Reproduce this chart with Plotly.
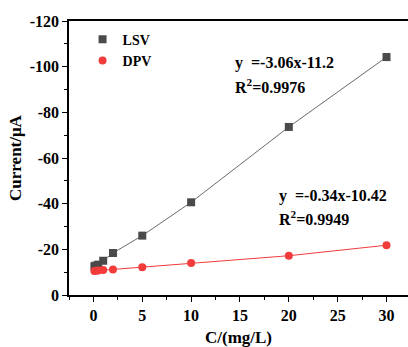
import plotly.graph_objects as go

conc = [0.1, 0.25, 0.5, 1, 2, 5, 10, 20, 30]
lsv = [-12.6, -12.9, -13.3, -15.0, -18.4, -26.0, -40.6, -73.6, -104.2]
lsv_err = [0.6, 0.6, 0.6, 0.8, 0.8, 1.0, 1.0, 0.9, 1.5]
dpv = [-10.5, -10.6, -10.7, -10.9, -11.2, -12.2, -14.0, -17.2, -21.8]

x_ticks = [0, 5, 10, 15, 20, 25, 30]
y_ticks = [0, -20, -40, -60, -80, -100, -120]

FONT = "Liberation Serif"
gray = "#4a4a4a"
red = "#f23b3b"

fig = go.Figure()
# connecting lines (no legend entry)
fig.add_trace(go.Scatter(x=conc, y=lsv, mode="lines", showlegend=False,
                         line=dict(color="#6a6a6a", width=1), hoverinfo="skip"))
fig.add_trace(go.Scatter(x=conc, y=dpv, mode="lines", showlegend=False,
                         line=dict(color=red, width=1), hoverinfo="skip"))
# markers
fig.add_trace(go.Scatter(
    x=conc, y=lsv, mode="markers", name="LSV",
    marker=dict(symbol="square", size=8, color=gray),
    error_y=dict(type="data", array=lsv_err, color=gray, thickness=1.2, width=3),
))
fig.add_trace(go.Scatter(
    x=conc, y=dpv, mode="markers", name="DPV",
    marker=dict(symbol="circle", size=8, color=red),
))

ann_font = dict(family=FONT, size=16, color="black", weight="bold")
fig.add_annotation(x=14.3, y=-101.7, text="y  =-3.06x-11.2", showarrow=False,
                   xanchor="left", yanchor="middle", font=ann_font)
fig.add_annotation(x=14.3, y=-91.6, text="R<sup>2</sup>=0.9976", showarrow=False,
                   xanchor="left", yanchor="middle", font=ann_font)
fig.add_annotation(x=18.8, y=-43.3, text="y  =-0.34x-10.42", showarrow=False,
                   xanchor="left", yanchor="middle", font=ann_font)
fig.add_annotation(x=18.8, y=-33.7, text="R<sup>2</sup>=0.9949", showarrow=False,
                   xanchor="left", yanchor="middle", font=ann_font)

tick_font = dict(family=FONT, size=16, color="black", weight="bold")
title_font = dict(family=FONT, size=17, color="black", weight="bold")

fig.update_layout(
    width=408, height=347,
    margin=dict(l=69, r=0, t=21, b=52),
    plot_bgcolor="white", paper_bgcolor="white",
    showlegend=True,
    legend=dict(x=0.04, y=0.99, xanchor="left", yanchor="top",
                bgcolor="rgba(0,0,0,0)",
                font=dict(family=FONT, size=14, color="black", weight="bold"),
                itemwidth=30, tracegroupgap=0),
    xaxis=dict(
        range=[-2.5, 32.2], tickvals=x_ticks, ticktext=[str(v) for v in x_ticks],
        showline=True, linecolor="black", linewidth=1.5, mirror=True,
        ticks="outside", ticklen=5, tickwidth=1.2, tickcolor="black",
        minor=dict(dtick=2.5, tick0=0, ticks="outside", ticklen=3, tickcolor="black", tickwidth=1),
        showgrid=False, zeroline=False, tickfont=tick_font,
        title=dict(text="C/(mg/L)", font=title_font, standoff=12),
    ),
    yaxis=dict(
        range=[0, -120], tickvals=y_ticks, ticktext=[str(v) for v in y_ticks],
        showline=True, linecolor="black", linewidth=1.5,
        ticks="outside", ticklen=5, tickwidth=1.2, tickcolor="black",
        minor=dict(dtick=10, tick0=0, ticks="outside", ticklen=3, tickcolor="black", tickwidth=1),
        showgrid=False, zeroline=False, tickfont=tick_font,
        title=dict(text="Current/μA", font=dict(family=FONT, size=17, color="black", weight="bold"), standoff=4),
    ),
)

fig.write_html("out.html")
